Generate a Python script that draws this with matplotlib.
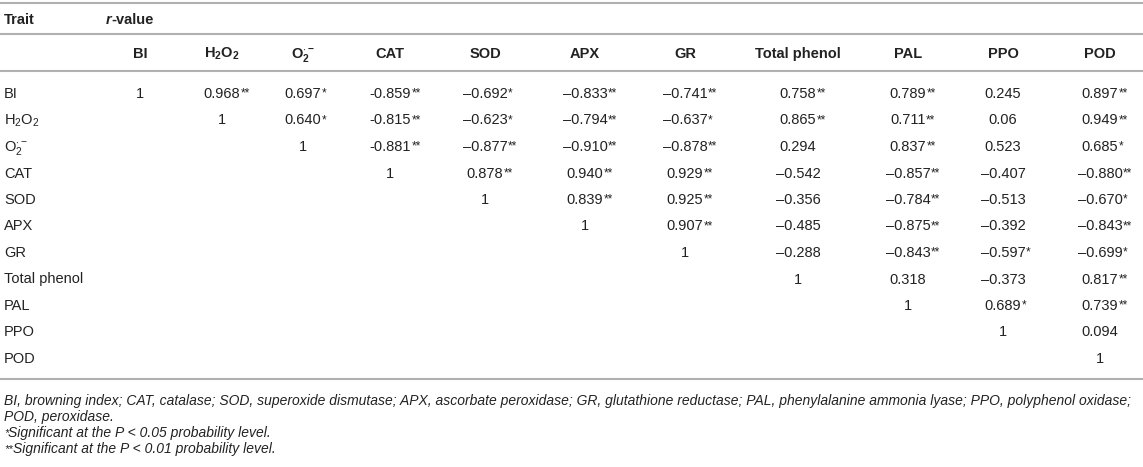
import matplotlib
matplotlib.use("Agg")
import matplotlib.pyplot as plt

plt.rcParams['font.family'] = ['Liberation Sans', 'DejaVu Sans']
plt.rcParams['mathtext.fontset'] = 'custom'
plt.rcParams['mathtext.rm'] = 'Liberation Sans'
plt.rcParams['mathtext.it'] = 'Liberation Sans:italic'
plt.rcParams['mathtext.bf'] = 'Liberation Sans:bold'

# ---- data ----
col_headers = ["BI", r"$\mathbf{H_2O_2}$", r"$\mathbf{O_2^{\cdot-}}$", "CAT", "SOD", "APX", "GR",
               "Total phenol", "PAL", "PPO", "POD"]
row_labels = ["BI", r"H$_2$O$_2$", r"O$_2^{\cdot-}$", "CAT", "SOD", "APX", "GR",
              "Total phenol", "PAL", "PPO", "POD"]
r_BI = ["1", "0.968**", "0.697*", "-0.859**", "\u20130.692*", "\u20130.833**", "\u20130.741**",
        "0.758**", "0.789**", "0.245", "0.897**"]
r_H2O2 = ["1", "0.640*", "-0.815**", "\u20130.623*", "\u20130.794**", "\u20130.637*", "0.865**",
          "0.711**", "0.06", "0.949**"]
r_O2 = ["1", "-0.881**", "\u20130.877**", "\u20130.910**", "\u20130.878**", "0.294", "0.837**",
        "0.523", "0.685*"]
r_CAT = ["1", "0.878**", "0.940**", "0.929**", "\u20130.542", "\u20130.857**", "\u20130.407", "\u20130.880**"]
r_SOD = ["1", "0.839**", "0.925**", "\u20130.356", "\u20130.784**", "\u20130.513", "\u20130.670*"]
r_APX = ["1", "0.907**", "\u20130.485", "\u20130.875**", "\u20130.392", "\u20130.843**"]
r_GR = ["1", "\u20130.288", "\u20130.843**", "\u20130.597*", "\u20130.699*"]
r_TP = ["1", "0.318", "\u20130.373", "0.817**"]
r_PAL = ["1", "0.689*", "0.739**"]
r_PPO = ["1", "0.094"]
r_POD = ["1"]
rows = [r_BI, r_H2O2, r_O2, r_CAT, r_SOD, r_APX, r_GR, r_TP, r_PAL, r_PPO, r_POD]

footnotes = [
    ("", "BI, browning index; CAT, catalase; SOD, superoxide dismutase; APX, ascorbate peroxidase; "
         "GR, glutathione reductase; PAL, phenylalanine ammonia lyase; PPO, polyphenol oxidase;"),
    ("", "POD, peroxidase."),
    ("*", "Significant at the P < 0.05 probability level."),
    ("**", "Significant at the P < 0.01 probability level."),
]

# ---- layout (pixel coordinates) ----
W, H = 1143, 467
col_x = [140, 222, 303, 390, 485, 585, 685, 798, 908, 1003, 1100]
row_y0, row_dy = 93, 26.5
fs = 10.5
fs_note = 10.0
txt = '#222222'
linec = '#b0b0b0'
base = 5.0  # baseline offset from visual centre

fig = plt.figure(figsize=(W / 100, H / 100), dpi=100)
ax = fig.add_axes([0, 0, 1, 1])
ax.set_xlim(0, W)
ax.set_ylim(H, 0)
ax.axis('off')
renderer = fig.canvas.get_renderer()

for y in (3, 34, 71, 379):
    ax.plot([0, W], [y, y], color=linec, lw=1.5, solid_capstyle='butt')

# header
ax.text(4, 19 + base, "Trait", fontsize=fs, fontweight='bold', color=txt, va='baseline')
t_r = ax.text(106, 19 + base, "r", fontsize=fs, fontweight='bold', fontstyle='italic', color=txt, va='baseline')
ax.annotate("-value", xy=(1, 0), xycoords=t_r, fontsize=fs, fontweight='bold', color=txt,
            va='bottom', ha='left')
for x, h in zip(col_x, col_headers):
    ax.text(x, 53 + base, h, fontsize=fs, fontweight='bold', color=txt, ha='center', va='baseline')

# body
for i, (lab, vals) in enumerate(zip(row_labels, rows)):
    y = row_y0 + i * row_dy + base
    ax.text(4, y, lab, fontsize=fs, color=txt, va='baseline')
    for j, v in enumerate(vals):
        x = col_x[i + j]
        num = v.rstrip('*')
        stars = v[len(num):]
        t = ax.text(x, y, num, fontsize=fs, color=txt, ha='center', va='baseline')
        if stars:
            bb = t.get_window_extent(renderer)
            xr = ax.transData.inverted().transform((bb.x1, 0))[0]
            ax.text(xr + 0.5, y - 1.5, stars, fontsize=8.5, color=txt, ha='left', va='baseline')

# footnotes
for k, (st, line) in enumerate(footnotes):
    y = 400 + k * 16.3 + 4.5
    x0 = 4
    if st:
        ts = ax.text(x0, y - 1.5, st, fontsize=8, color=txt, fontstyle='italic', va='baseline')
        bb = ts.get_window_extent(renderer)
        x0 = ax.transData.inverted().transform((bb.x1, 0))[0]
    ax.text(x0, y, line, fontsize=fs_note, color=txt, fontstyle='italic', va='baseline')

fig.savefig("out.png", dpi=100)
